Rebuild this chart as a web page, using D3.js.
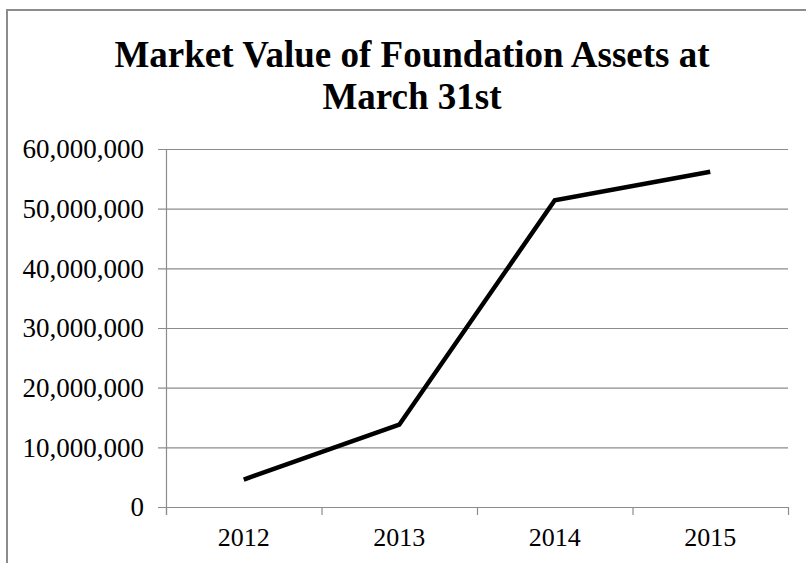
<!DOCTYPE html>
<html>
<head>
<meta charset="utf-8">
<script src="https://cdn.jsdelivr.net/npm/d3@7"></script>
<style>
  body { margin: 0; background: #fff; }
  svg { display: block; }
  svg text { font-family: 'Liberation Serif', 'Times New Roman', Times, serif; }
</style>
</head>
<body>
<svg id="chart" width="806" height="563"></svg>
<script>
(function (w) {
  const years = ['2012', '2013', '2014', '2015']
  const assetValues = [4600000, 13800000, 51400000, 56200000]
  const yTicks = [0, 10000000, 20000000, 30000000, 40000000, 50000000, 60000000]
  const titleLines = ['Market Value of Foundation Assets at', 'March 31st']

  const d3 = w.d3
  const svg = d3.select('#chart')
  const margin = { left: 166, right: 18, top: 149, bottom: 56 }
  const width = 806 - margin.left - margin.right
  const height = 563 - margin.top - margin.bottom

  // outer frame
  svg.append('path')
    .attr('d', 'M7,563 V10 H806')
    .attr('fill', 'none')
    .attr('stroke', '#8c8c8c')
    .attr('stroke-width', 2)

  svg.append('text')
    .attr('x', 412)
    .attr('y', 67)
    .attr('text-anchor', 'middle')
    .style('font-weight', 'bold')
    .style('font-size', '37px')
    .selectAll('tspan')
    .data(titleLines)
    .enter().append('tspan')
    .attr('x', 412)
    .attr('dy', (d, i) => i === 0 ? 0 : 42)
    .text(d => d)

  const g = svg.append('g')
    .attr('transform', `translate(${margin.left},${margin.top})`)

  let x = d3.scaleBand().domain(years).range([0, width])
  let y = d3.scaleLinear().domain([0, 60000000]).range([height, 0])

  // gridlines
  g.append('g')
    .selectAll('line')
    .data(yTicks)
    .enter().append('line')
    .attr('x1', -8)
    .attr('x2', width)
    .attr('y1', d => y(d) + 0.5)
    .attr('y2', d => y(d) + 0.5)
    .attr('stroke', '#8c8c8c')
    .attr('stroke-width', 1.2)

  // y axis line
  g.append('line')
    .attr('x1', 0.5).attr('x2', 0.5)
    .attr('y1', 0).attr('y2', height + 8)
    .attr('stroke', '#8c8c8c')
    .attr('stroke-width', 1.2)

  // y labels
  g.append('g')
    .selectAll('text')
    .data(yTicks)
    .enter().append('text')
    .attr('x', -22)
    .attr('y', d => y(d))
    .attr('dy', '0.35em')
    .attr('text-anchor', 'end')
    .style('font-size', '27px')
    .text(d => d3.format(',')(d))

  // x ticks
  const xEdges = years.map(d => x(d)).concat([width])
  g.append('g')
    .selectAll('line')
    .data(xEdges)
    .enter().append('line')
    .attr('x1', d => d + 0.5).attr('x2', d => d + 0.5)
    .attr('y1', height).attr('y2', height + 8)
    .attr('stroke', '#8c8c8c')
    .attr('stroke-width', 1.2)

  g.append('g')
    .selectAll('text')
    .data(years)
    .enter().append('text')
    .attr('x', d => x(d) + x.bandwidth() / 2)
    .attr('y', height + 39)
    .attr('text-anchor', 'middle')
    .style('font-size', '26px')
    .text(d => d)

  const line = d3.line()
    .x((d, i) => x(years[i]) + x.bandwidth() / 2)
    .y(d => y(d))

  g.append('path')
    .datum(assetValues)
    .attr('d', line)
    .attr('fill', 'none')
    .attr('stroke', '#000')
    .attr('stroke-width', 4.5)
    .attr('stroke-linejoin', 'miter')
})(window)
</script>
</body>
</html>
